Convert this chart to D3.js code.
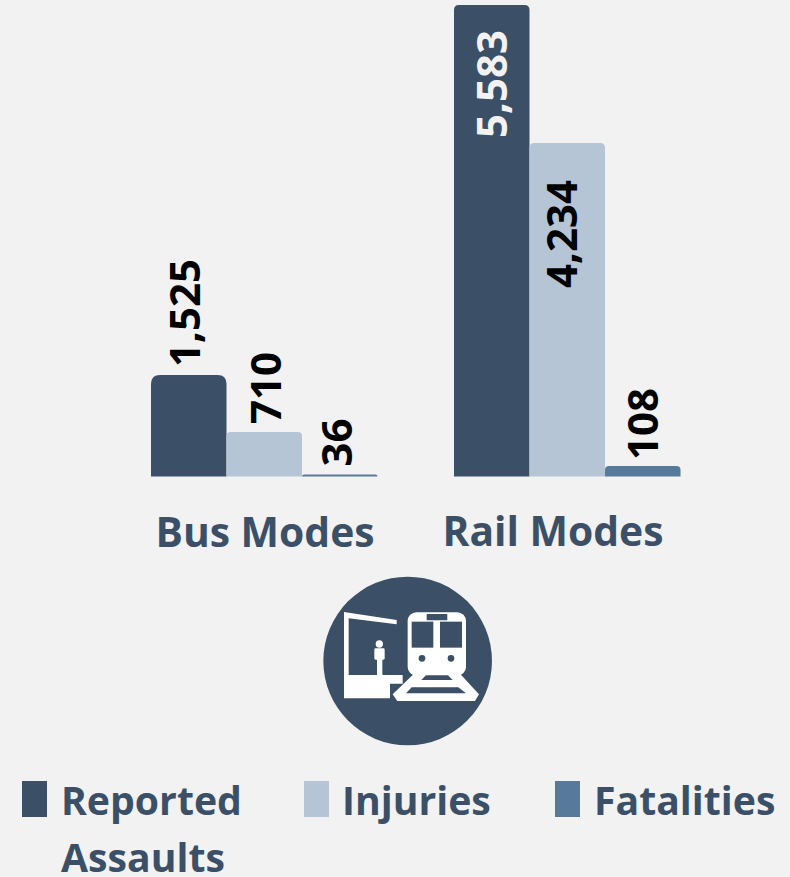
<!DOCTYPE html>
<html><head><meta charset="utf-8">
<script src="https://cdn.jsdelivr.net/npm/d3@7"></script>
<style>html,body{margin:0;padding:0;background:#f2f2f2}svg{display:block}</style>
</head><body><svg id="c" width="790" height="877"></svg>
<script>
const groups = ["Bus Modes", "Rail Modes"];
const seriesNames = ["Reported Assaults", "Injuries", "Fatalities"];
const busValues = [1525, 710, 36];
const railValues = [5583, 4234, 108];
const colors = ["#3b5067", "#b5c5d5", "#577a9a"];
const navy = "#3b5067";

const svg = d3.select("#c");
const baseline = 476.5;
// The source infographic's bar heights are not strictly proportional: piecewise scale.
const h = d3.scaleLinear().domain([0,36,108,710,1525,4234,5583]).range([0,2,10.5,44.5,101.5,333.5,471.5]);
const x0 = d3.scaleOrdinal().domain(groups).range([151, 454]);
const x1 = d3.scaleBand().domain(seriesNames).range([0, 226.5]);
const fmt = d3.format(",");
const labelNudge = [[11,16.5,12],[15,10,15]];
const labelGap = [[8,8,8],[25,37,6]];

function topRounded(x, y, w, ht, r){
  r = Math.min(r, ht, w/2);
  return `M${x},${y+ht}V${y+r}Q${x},${y} ${x+r},${y}H${x+w-r}Q${x+w},${y} ${x+w},${y+r}V${y+ht}Z`;
}
const rows = [busValues, railValues];
groups.forEach((g, gi) => {
  const gr = svg.append("g");
  const d = rows[gi].map((v,i)=>({v,name:seriesNames[i],i}));
  gr.selectAll("path").data(d).join("path")
    .attr("d", e => topRounded(x0(g)+x1(e.name), baseline-h(e.v), x1.bandwidth(), h(e.v), e.v>1000?(e.v===1525?9:5):4))
    .attr("fill", e => colors[e.i]);
  gr.selectAll("text").data(d).join("text")
    .attr("transform", e => {
      const cx = x0(g)+x1(e.name)+x1.bandwidth()/2;
      const inside = e.v > 4000;
      const gap = labelGap[gi][e.i];
      const y = inside ? baseline-h(e.v)+gap : baseline-h(e.v)-gap;
      return `translate(${cx+labelNudge[gi][e.i]},${y}) rotate(-90)`;
    })
    .attr("text-anchor", e => e.v>4000 ? "end" : "start")
    .attr("font-family", "'Open Sans'").attr("font-weight", 700).attr("font-size", 42)
    .attr("fill", e => (gi===1&&e.i===0) ? "#f2f2f2" : "#000")
    .text(e => fmt(e.v));
  svg.append("text").attr("x", gi===0?265:553).attr("y", gi===0?547:546).attr("text-anchor","middle")
    .attr("font-family","'Open Sans'").attr("font-weight",700).attr("font-size",40.8).attr("fill",navy).text(g);
});

// Icon
const ic = svg.append("g").attr("transform","translate(310,565) scale(0.3333)");
ic.append("circle").attr("cx",293).attr("cy",288).attr("r",253).attr("fill",navy);
ic.append("path").attr("fill","#fff").attr("d","M102,141L260,165V178L116,160V330H278V356H240V400H102Z");
ic.append("circle").attr("cx",208).attr("cy",237).attr("r",11).attr("fill","#fff");
ic.append("rect").attr("x",193).attr("y",250).attr("width",31).attr("height",34).attr("rx",4).attr("fill","#fff");
ic.append("rect").attr("x",201).attr("y",280).attr("width",16).attr("height",52).attr("fill","#fff");
ic.append("rect").attr("x",293).attr("y",142).attr("width",175).attr("height",190).attr("rx",26).attr("fill","#fff");
ic.append("path").attr("fill","#fff").attr("d","M248,388L312,326H450L507,388L495,408H262Z");
ic.append("path").attr("fill",navy).attr("d","M348,331H414L428,345H334Z");
ic.append("path").attr("fill",navy).attr("d","M305,367H445L468,385H288Z");
ic.append("rect").attr("x",305).attr("y",170).attr("width",65).attr("height",78).attr("fill",navy);
ic.append("rect").attr("x",390).attr("y",170).attr("width",66).attr("height",78).attr("fill",navy);
ic.append("rect").attr("x",350).attr("y",147).attr("width",62).attr("height",19).attr("rx",2).attr("fill",navy);
ic.append("circle").attr("cx",336).attr("cy",280).attr("r",10).attr("fill",navy);
ic.append("circle").attr("cx",423).attr("cy",280).attr("r",10).attr("fill",navy);

// Legend
const lgX = [22, 304, 555], lgTextX = [61, 342, 594];
seriesNames.forEach((n,i)=>{
  svg.append("rect").attr("x",lgX[i]).attr("y",781).attr("width",25).attr("height",36).attr("fill",colors[i]);
  const t = svg.append("text").attr("font-family","'Open Sans'").attr("font-weight",700)
    .attr("font-size",39.2).attr("fill",navy);
  const parts = n.split(" ");
  parts.forEach((p,j)=>t.append("tspan").attr("x",lgTextX[i]).attr("y",815+j*57).text(p));
});
</script></body></html>
